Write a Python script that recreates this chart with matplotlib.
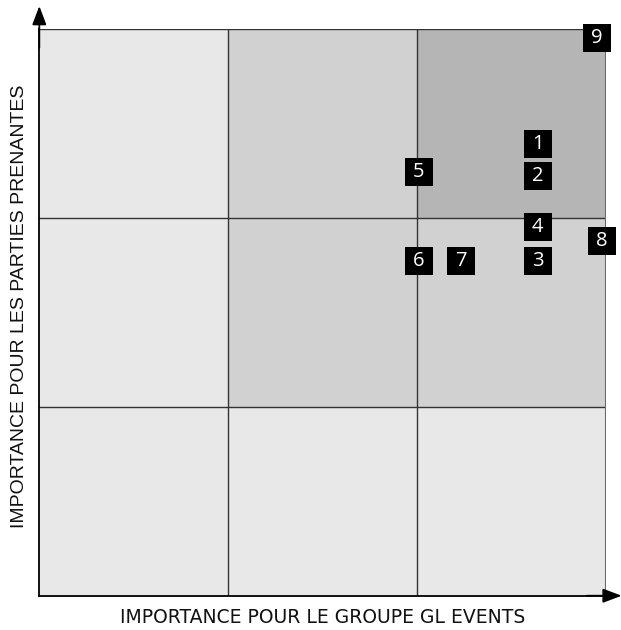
import matplotlib
matplotlib.use("Agg")
import matplotlib.pyplot as plt
from matplotlib.patches import Rectangle

# shading level of each cell, row 0 = bottom
cell_levels = [
    [0, 0, 0],
    [0, 1, 1],
    [0, 1, 2],
]
level_colors = ["#e8e8e8", "#d1d1d1", "#b5b5b5"]

# issues: number, importance for the group (x), importance for stakeholders (y)
issue_ids = ["1", "2", "3", "4", "5", "6", "7", "8", "9"]
issue_x = [2.64, 2.64, 2.64, 2.64, 2.01, 2.01, 2.235, 2.98, 2.955]
issue_y = [2.39, 2.22, 1.77, 1.95, 2.24, 1.77, 1.77, 1.875, 2.95]

x_title = "IMPORTANCE POUR LE GROUPE GL EVENTS"
y_title = "IMPORTANCE POUR LES PARTIES PRENANTES"

fig = plt.figure(figsize=(6.21, 6.30), dpi=100)
ax = fig.add_axes([0.0633, 0.0544, 0.9119, 0.9000])
ax.set_xlim(0, 3)
ax.set_ylim(0, 3)

for row in range(3):
    for col in range(3):
        ax.add_patch(Rectangle((col, row), 1, 1,
                               facecolor=level_colors[cell_levels[row][col]],
                               edgecolor="none", zorder=0))

# grid lines between cells
for v in (1, 2):
    ax.axvline(v, color="#333333", lw=1.0, zorder=1)
    ax.axhline(v, color="#333333", lw=1.0, zorder=1)
ax.axhline(3, color="#333333", lw=1.0, zorder=1)
ax.axvline(3, color="#6a6a6a", lw=1.5, zorder=1)

for s in ["top", "right"]:
    ax.spines[s].set_visible(False)
for s in ["left", "bottom"]:
    ax.spines[s].set_color("black")
    ax.spines[s].set_linewidth(1.3)
ax.set_xticks([])
ax.set_yticks([])

# axis arrows
arrow = dict(arrowstyle="-|>,head_length=0.95,head_width=0.36", color="black",
             lw=1.3, shrinkA=0, shrinkB=0, mutation_scale=12)
ax.annotate("", xy=(0, 3.12), xytext=(0, 2.9), arrowprops=arrow,
            annotation_clip=False)
ax.annotate("", xy=(3.085, 0), xytext=(2.9, 0), arrowprops=arrow,
            annotation_clip=False)

# numbered markers
ax.scatter(issue_x, issue_y, marker="s", s=430, color="black",
           linewidths=0, zorder=3, clip_on=False)
for lab, x, y in zip(issue_ids, issue_x, issue_y):
    ax.text(x, y, lab, color="white", fontsize=14.5, ha="center",
            va="center", family="Open Sans", zorder=4)

fig.text(0.519, 0.0111, x_title, ha="center", va="baseline", fontsize=13.5,
         family="DejaVu Sans", color="#111111")
fig.text(0.0306, 0.5144, y_title, ha="center", va="center", rotation=90,
         fontsize=14, family="Liberation Sans", color="#111111")

fig.savefig("out.png", dpi=100)
